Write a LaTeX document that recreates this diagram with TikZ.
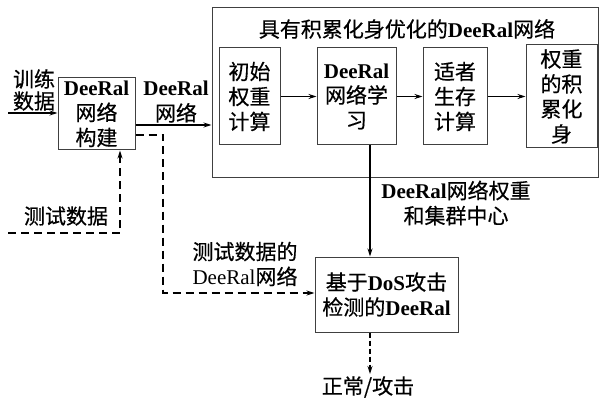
\documentclass[tikz,border=0pt]{standalone}
\usepackage{fontspec}
\setmainfont{Noto Sans CJK SC}[FakeBold=0.5]
\newfontfamily\tnr{Liberation Serif}
\usetikzlibrary{arrows.meta}
\newcommand\DRb{{\tnr\bfseries DeeRal}}
\newcommand\DRr{{\tnr DeeRal}}
\newcommand\DoSb{{\tnr\bfseries DoS}}
\begin{document}
\begin{tikzpicture}[x=1pt,y=-1pt,
  box/.style={draw=black!75, line width=1pt, inner sep=0pt, align=center, font=\fontsize{21}{25}\selectfont},
  lbl/.style={inner sep=0pt, align=center, font=\fontsize{21}{25}\selectfont},
  arr/.style={line width=1.2pt, -{Stealth[length=8pt,width=5pt]}},
  darr/.style={arr, dash pattern=on 8pt off 5pt, line width=1.6pt},
  sdarr/.style={arr, dash pattern=on 5pt off 3pt, line width=1.1pt}]
\useasboundingbox (0,0) rectangle (599,398);
% boxes
\node[box, minimum width=386pt, minimum height=170pt] (big) at (405,93) {};
\node[lbl] (title) at (407,29) {具有积累化身优化的\DRb 网络};
\node[box, minimum width=61pt, minimum height=97pt] (b1) at (249.5,96.5) {初始\\权重\\计算};
\node[box, minimum width=79pt, minimum height=97pt] (b2) at (356.5,96.5) {\DRb\\网络学\\习};
\node[box, minimum width=64pt, minimum height=97pt] (b3) at (455,96.5) {适者\\生存\\计算};
\node[box, minimum width=71pt, minimum height=103pt] (b4) at (561.5,96.5) {权重\\的积\\累化\\身};
\node[box, minimum width=77pt, minimum height=72pt] (build) at (96.5,114) {\DRb\\网络\\构建};
\node[box, minimum width=143pt, minimum height=75pt] (dos) at (386.5,294.5) {基于\DoSb 攻击\\检测的\DRb};
% labels
\node[lbl, font=\fontsize{21}{22}\selectfont] (train) at (34,90) {训练\\数据};
\node[lbl] (netlbl) at (176,102) {\DRb\\网络};
\node[lbl] (testlbl) at (66,216) {测试数据};
\node[lbl] (wlbl) at (456,203) {\DRb 网络权重\\和集群中心};
\node[lbl] (tdlbl) at (245,264) {测试数据的\\\DRr 网络};
\node[lbl] (out) at (368,387) {正常/攻击};
% connectors
\draw[arr] (b1) -- (b2);
\draw[arr] (b2) -- (b3);
\draw[arr] (b3) -- (b4);
\coordinate (tin) at (8,113);
\draw[arr] (tin) -- (tin -| build.west);
\coordinate (bo) at (135,125);
\draw[arr] (build.east |- bo) -- (big.west |- bo);
\coordinate (dk) at (163,135);
\coordinate (dk2) at (163,293);
\draw[darr] (build.east |- dk) -- (dk) -- (dk2) -- (dos.west |- dk2);
\coordinate (ts) at (8,233);
\coordinate (tc) at (120,233);
\draw[darr] (ts) -- (tc) -- (tc |- build.south);
\coordinate (wx) at (370,0);
\coordinate (oe) at (370,374);
\draw[arr] (b2.south -| wx) -- (dos.north -| wx);
\draw[sdarr] (dos.south -| wx) -- (oe);
\end{tikzpicture}
\end{document}
